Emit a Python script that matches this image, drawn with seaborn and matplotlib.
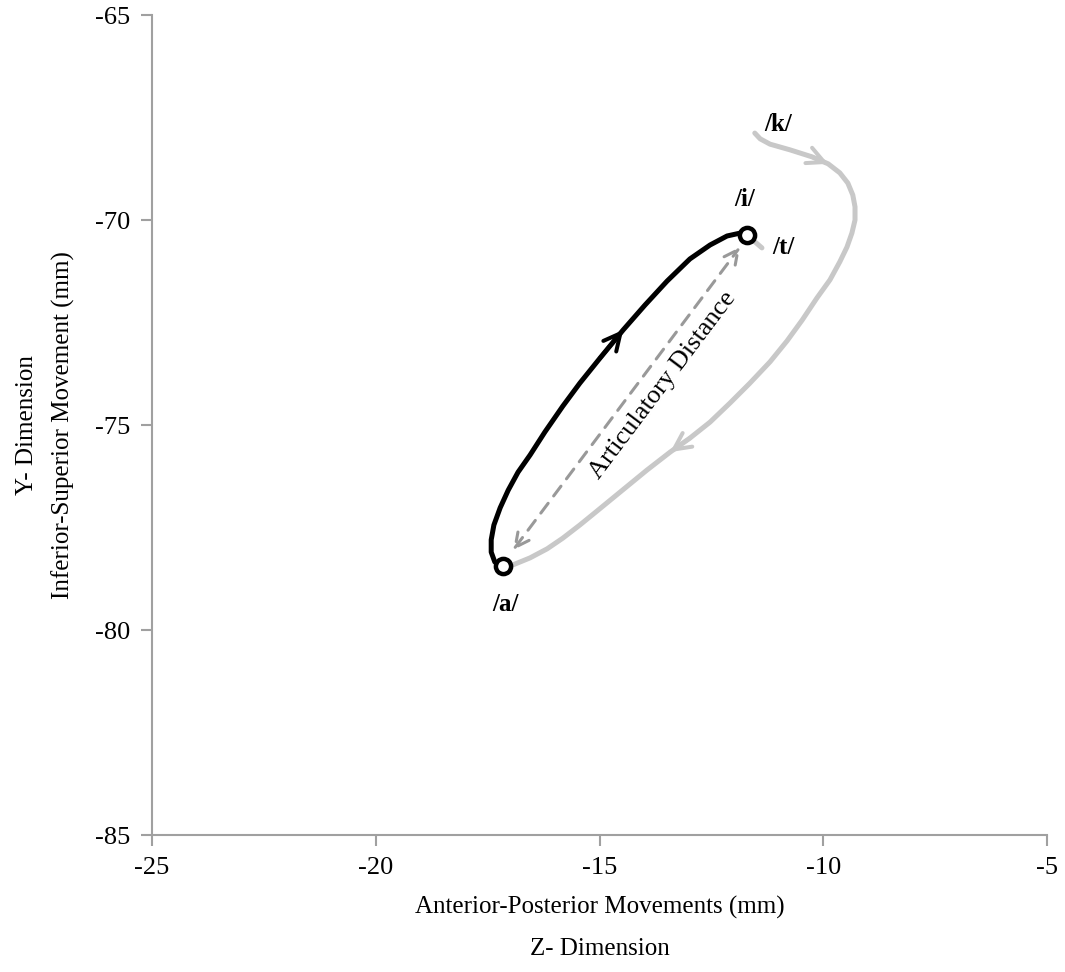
import matplotlib
matplotlib.use("Agg")
import matplotlib.pyplot as plt
import seaborn as sns
import pandas as pd

# tongue path (Z = anterior-posterior, Y = inferior-superior, mm)
black_z = [-17.16, -17.34, -17.42, -17.42, -17.36, -17.22, -17.04, -16.82, -16.55, -16.22,
           -15.82, -15.44, -14.99, -14.47, -13.98, -13.49, -12.98, -12.53, -12.15, -11.86,
           -11.70]
black_y = [-78.44, -78.34, -78.10, -77.80, -77.44, -77.02, -76.59, -76.15, -75.73, -75.17,
           -74.54, -73.98, -73.37, -72.68, -72.07, -71.49, -70.95, -70.61, -70.39, -70.32,
           -70.37]

grey_z = [-11.53, -11.41, -11.19, -10.74, -10.25, -9.89, -9.63, -9.45, -9.34, -9.29,
          -9.29, -9.36, -9.47, -9.63, -9.85, -10.14, -10.47, -10.81, -11.19, -11.64,
          -12.08, -12.53, -12.98, -13.42, -13.94, -14.32, -14.70, -15.08, -15.44, -15.82,
          -16.17, -16.55, -16.93, -17.16]
grey_y = [-67.88, -68.02, -68.15, -68.29, -68.46, -68.63, -68.85, -69.10, -69.39, -69.68,
          -70.00, -70.32, -70.66, -71.02, -71.46, -71.90, -72.44, -72.95, -73.46, -73.98,
          -74.46, -74.93, -75.32, -75.66, -76.10, -76.44, -76.78, -77.12, -77.44, -77.76,
          -78.02, -78.24, -78.41, -78.44]

stub_z = [-11.70, -11.37]
stub_y = [-70.37, -70.68]

# point labels
lab_text = ["/a/", "/i/", "/t/", "/k/"]
lab_z = [-17.11, -11.75, -10.90, -11.01]
lab_y = [-79.39, -69.51, -70.66, -67.68]

# articulatory distance arrow ends
dist_z = [-16.93, -11.86]
dist_y = [-78.05, -70.66]

sns.set_style("ticks")
plt.rcParams["font.family"] = ["Liberation Serif", "DejaVu Serif"]
plt.rcParams["axes.unicode_minus"] = False
plt.rcParams["text.color"] = "black"
plt.rcParams["axes.labelcolor"] = "black"
plt.rcParams["xtick.labelcolor"] = "black"
plt.rcParams["ytick.labelcolor"] = "black"

fig = plt.figure(figsize=(10.65, 9.72), dpi=100)
ax = fig.add_axes([152 / 1065, 1 - 835 / 972, 895 / 1065, 820 / 972])

black = pd.DataFrame({"z": black_z, "y": black_y})
grey = pd.DataFrame({"z": grey_z, "y": grey_y})
stub = pd.DataFrame({"z": stub_z, "y": stub_y})

grey_col = "#c8c8c8"
lw = 3.6
sns.lineplot(data=grey, x="z", y="y", sort=False, estimator=None, color=grey_col,
             lw=lw, ax=ax, solid_capstyle="round", solid_joinstyle="round")
sns.lineplot(data=stub, x="z", y="y", sort=False, estimator=None, color=grey_col,
             lw=lw, ax=ax, solid_capstyle="round")
sns.lineplot(data=black, x="z", y="y", sort=False, estimator=None, color="black",
             lw=lw, ax=ax, solid_capstyle="round", solid_joinstyle="round")

# direction chevrons on the paths
def chevron(zs, ys, i, col):
    ax.annotate("", xy=(zs[i + 1], ys[i + 1]), xytext=(zs[i], ys[i]),
                arrowprops=dict(arrowstyle="->,head_length=1.2,head_width=0.6",
                                color=col, lw=lw * 0.8, shrinkA=0, shrinkB=0,
                                capstyle="round", joinstyle="round"))

chevron(black_z, black_y, 12, "black")
chevron(grey_z, grey_y, 4, grey_col)
chevron(grey_z, grey_y, 22, grey_col)

# dashed double arrow
ax.annotate("", xy=(dist_z[1], dist_y[1]), xytext=(dist_z[0], dist_y[0]),
            arrowprops=dict(arrowstyle="<->,head_length=1.0,head_width=0.5",
                            color="#999999", lw=2.2, ls=(0, (4, 3)),
                            shrinkA=0, shrinkB=0))
ax.text(-13.58, -74.02, "Articulatory Distance", rotation=53, rotation_mode="anchor",
        ha="center", va="center", fontsize=19)

# endpoints
sns.scatterplot(x=[black_z[0], black_z[-1]], y=[black_y[0], black_y[-1]], ax=ax,
                s=120, color="white", edgecolor="black", linewidth=3.2, zorder=5)

for t, z, y in zip(lab_text, lab_z, lab_y):
    ax.text(z, y, t, ha="center", va="center", fontsize=18, fontweight="bold")

ax.set_xlim(-25, -5)
ax.set_ylim(-85, -65)
ax.set_xticks([-25, -20, -15, -10, -5])
ax.set_yticks([-85, -80, -75, -70, -65])
ax.tick_params(labelsize=19, color="#a0a0a0", length=8, width=1.5, pad=8)
for s in ["top", "right"]:
    ax.spines[s].set_visible(False)
for s in ["left", "bottom"]:
    ax.spines[s].set_color("#a0a0a0")
    ax.spines[s].set_linewidth(1.5)

ax.set_xlabel("Anterior-Posterior Movements (mm)\nZ- Dimension", fontsize=18,
              labelpad=12, linespacing=2.1)
ax.set_ylabel("Y- Dimension\nInferior-Superior Movement (mm)", fontsize=18,
              labelpad=14, linespacing=1.75)

fig.savefig("out.png", dpi=100)
